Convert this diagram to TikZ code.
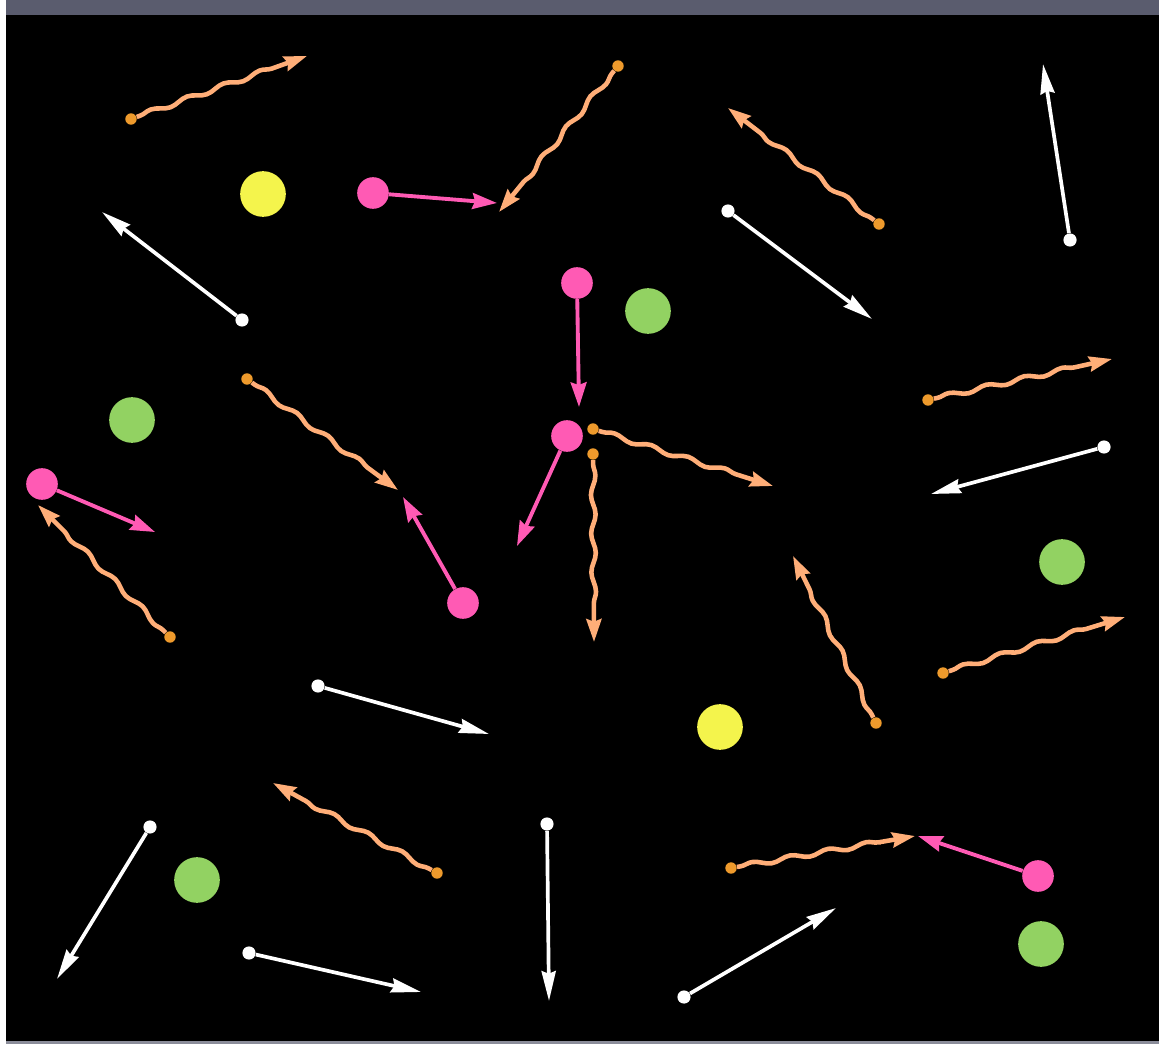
\documentclass[tikz,border=0pt]{standalone}
\usetikzlibrary{arrows.meta,decorations.pathmorphing}

\definecolor{photon}{HTML}{FFAE78}
\definecolor{photondot}{HTML}{EE9A2C}
\definecolor{electron}{HTML}{FF5AB4}
\definecolor{ballyellow}{HTML}{F4F44C}
\definecolor{ballgreen}{HTML}{92D262}
\definecolor{frametop}{HTML}{5A5C6E}

\begin{document}
\begin{tikzpicture}[
      x=0.02cm, y=-0.02cm,
      wdot/.style={circle, fill=white, inner sep=0pt, minimum size=7.5pt},
      wline/.style={draw=white, line width=2.1pt, -{Stealth[length=17pt, width=8pt, inset=1.5pt]}},
      pdot/.style={circle, fill=photondot, inner sep=0pt, minimum size=6.5pt},
      pline/.style={draw=photon, line width=2.6pt, -{Stealth[length=13pt, width=8.5pt, inset=1.5pt]},
        decorate, decoration={snake, amplitude=1.3pt, segment length=22pt, pre length=2pt, post length=13pt}},
      edot/.style={circle, fill=electron, inner sep=0pt, minimum size=18pt},
      eline/.style={draw=electron, line width=2.2pt, -{Stealth[length=14pt, width=9pt, inset=1.5pt]}},
      ball/.style={circle, inner sep=0pt, minimum size=26pt},
    ]
    % frame
    \useasboundingbox (0,0) rectangle (1159,1044);
    \fill[white] (0,0) rectangle (1159,1044);
    \fill[black] (6,15) rectangle (1159,1041);
    \fill[frametop] (6,0) rectangle (1159,15);
    \fill[frametop!70] (6,1041) rectangle (1159,1044);

    % balls
    \node[ball, fill=ballyellow] (y1) at (263,194) {};
    \node[ball, fill=ballyellow] (y2) at (720,727) {};
    \node[ball, fill=ballgreen] (g1) at (648,311) {};
    \node[ball, fill=ballgreen] (g2) at (132,420) {};
    \node[ball, fill=ballgreen] (g3) at (1062,562) {};
    \node[ball, fill=ballgreen] (g4) at (197,880) {};
    \node[ball, fill=ballgreen] (g5) at (1041,944) {};

    % white tracks
    \node[wdot] (w1) at (1070,240) {};
    \coordinate (w1h) at (1043,64);
    \draw[wline] (w1) -- (w1h);
    \node[wdot] (w2) at (242,320) {};
    \coordinate (w2h) at (102,212);
    \draw[wline] (w2) -- (w2h);
    \node[wdot] (w3) at (728,211) {};
    \coordinate (w3h) at (872,319);
    \draw[wline] (w3) -- (w3h);
    \node[wdot] (w4) at (1104,447) {};
    \coordinate (w4h) at (931,494);
    \draw[wline] (w4) -- (w4h);
    \node[wdot] (w5) at (318,686) {};
    \coordinate (w5h) at (489,734);
    \draw[wline] (w5) -- (w5h);
    \node[wdot] (w6) at (150,827) {};
    \coordinate (w6h) at (57,979);
    \draw[wline] (w6) -- (w6h);
    \node[wdot] (w7) at (249,953) {};
    \coordinate (w7h) at (421,992);
    \draw[wline] (w7) -- (w7h);
    \node[wdot] (w8) at (547,824) {};
    \coordinate (w8h) at (549,1001);
    \draw[wline] (w8) -- (w8h);
    \node[wdot] (w9) at (684,997) {};
    \coordinate (w9h) at (836,908);
    \draw[wline] (w9) -- (w9h);

    % photons
    \node[pdot] (ph1) at (131,119) {};
    \coordinate (ph1h) at (307,56);
    \draw[pline] (ph1) -- (ph1h);
    \node[pdot] (ph2) at (618,66) {};
    \coordinate (ph2h) at (499,212);
    \draw[pline] (ph2) -- (ph2h);
    \node[pdot] (ph3) at (879,224) {};
    \coordinate (ph3h) at (728,108);
    \draw[pline] (ph3) -- (ph3h);
    \node[pdot] (ph4) at (928,400) {};
    \coordinate (ph4h) at (1112,359);
    \draw[pline] (ph4) -- (ph4h);
    \node[pdot] (ph5) at (170,637) {};
    \coordinate (ph5h) at (38,505);
    \draw[pline] (ph5) -- (ph5h);
    \node[pdot] (ph6) at (247,379) {};
    \coordinate (ph6h) at (398,490);
    \draw[pline] (ph6) -- (ph6h);
    \node[pdot] (ph7) at (593,429) {};
    \coordinate (ph7h) at (773,486);
    \draw[pline] (ph7) -- (ph7h);
    \node[pdot] (ph8) at (593,454) {};
    \coordinate (ph8h) at (594,642);
    \draw[pline] (ph8) -- (ph8h);
    \node[pdot] (ph9) at (876,723) {};
    \coordinate (ph9h) at (793,556);
    \draw[pline] (ph9) -- (ph9h);
    \node[pdot] (ph10) at (943,673) {};
    \coordinate (ph10h) at (1125,617);
    \draw[pline] (ph10) -- (ph10h);
    \node[pdot] (ph11) at (437,873) {};
    \coordinate (ph11h) at (273,783);
    \draw[pline] (ph11) -- (ph11h);
    \node[pdot] (ph12) at (731,868) {};
    \coordinate (ph12h) at (915,836);
    \draw[pline] (ph12) -- (ph12h);

    % electrons
    \node[edot] (e1) at (373,193) {};
    \coordinate (e1h) at (497,203);
    \draw[eline] (e1) -- (e1h);
    \node[edot] (e2) at (577,283) {};
    \coordinate (e2h) at (579,407);
    \draw[eline] (e2) -- (e2h);
    \node[edot] (e3) at (567,436) {};
    \coordinate (e3h) at (517,546);
    \draw[eline] (e3) -- (e3h);
    \node[edot] (e4) at (42,484) {};
    \coordinate (e4h) at (155,532);
    \draw[eline] (e4) -- (e4h);
    \node[edot] (e5) at (463,603) {};
    \coordinate (e5h) at (403,497);
    \draw[eline] (e5) -- (e5h);
    \node[edot] (e6) at (1038,876) {};
    \coordinate (e6h) at (918,836);
    \draw[eline] (e6) -- (e6h);
  \end{tikzpicture}
\end{document}
